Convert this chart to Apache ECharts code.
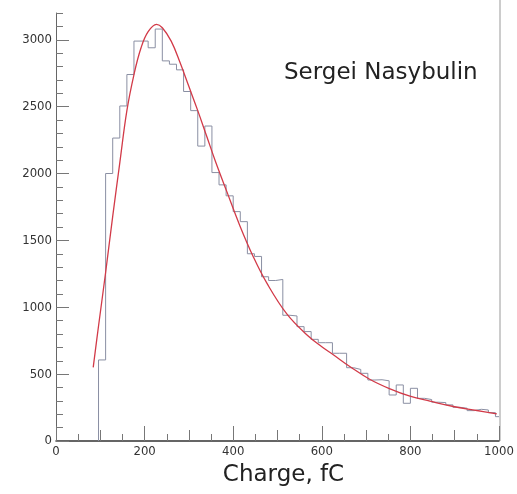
<!DOCTYPE html>
<html>
<head>
<meta charset="utf-8">
<script src="https://cdn.jsdelivr.net/npm/echarts@6/dist/echarts.min.js"></script>
<style>
  html, body { margin: 0; padding: 0; background: #fff; }
  #chart { width: 517px; height: 494px; }
</style>
</head>
<body>
<div id="chart"></div>
<script>
// histogram bins (lower edge, fC) and counts
const binEdges = [96, 112, 128, 144, 160, 176, 192, 208, 224, 240,
  256, 272, 288, 304, 320, 336, 352, 368, 384, 400,
  416, 432, 448, 464, 480, 496, 512, 528, 544, 560,
  576, 592, 608, 624, 640, 656, 672, 688, 704, 720,
  736, 752, 768, 784, 800, 816, 832, 848, 864, 880,
  896, 912, 928, 944, 960, 976, 992]
const binCounts = [606, 2000, 2265, 2505, 2740, 2990, 2990, 2940, 3080, 2842,
  2817, 2775, 2613, 2470, 2205, 2355, 2007, 1915, 1833, 1715,
  1640, 1400, 1380, 1228, 1200, 1208, 940, 935, 855, 818,
  760, 735, 735, 656, 656, 548, 535, 506, 456, 458,
  450, 344, 419, 282, 394, 319, 310, 290, 287, 270,
  252, 245, 227, 237, 232, 212, 182]

// fitted curve (red)
const fitX = [84, 96, 112, 128, 144, 160, 176, 192, 208, 227, 240, 260, 280, 300, 320, 340, 360,
  385, 415, 445, 476, 521, 566, 600, 626, 664, 709, 754, 799, 844, 897, 950, 995]
const fitY = [550, 860, 1260, 1680, 2080, 2470, 2740, 2940, 3060, 3115, 3090, 2990, 2830, 2650, 2470, 2280, 2090,
  1870, 1610, 1380, 1180, 950, 795, 705, 645, 555, 460, 390, 335, 298, 258, 228, 202]

const xTicks = [0, 200, 400, 600, 800, 1000]
const yTicks = [0, 500, 1000, 1500, 2000, 2500, 3000]

const tickFont = "'Liberation Sans Narrow', 'DejaVu Sans Condensed', sans-serif"

// step outline of the histogram
const histData = [[binEdges[0], 0]]
binEdges.forEach((e, i) => histData.push([e, binCounts[i]]))
histData.push([1000, binCounts[binCounts.length - 1]])

const fitData = fitX.map((x, i) => [x, fitY[i]])

// extra x axes that only draw the shorter ticks
const tickAxis = (interval, len) => ({
  type: 'value',
  position: 'bottom',
  min: 0,
  max: 1000,
  interval,
  axisLine: { show: false },
  axisTick: { inside: true, length: len, lineStyle: { color: '#777' } },
  axisLabel: { show: false },
  splitLine: { show: false },
})

const chart = echarts.init(document.getElementById('chart'))
chart.setOption({
  backgroundColor: '#fff',
  animation: false,
  title: {
    text: 'Sergei Nasybulin',
    left: 284,
    top: 62,
    padding: 0,
    textStyle: { fontFamily: 'DejaVu Sans', fontSize: 23, fontWeight: 'normal', color: '#222' },
  },
  grid: { left: 56, right: 18, top: 13, bottom: 53 },
  xAxis: [
    {
      type: 'value',
      position: 'bottom',
      min: 0,
      max: 1000,
      interval: 200,
      axisLine: { lineStyle: { color: '#333', width: 1.5 } },
      axisTick: { inside: true, length: 15, lineStyle: { color: '#777' } },
      axisLabel: {
        customValues: xTicks,
        fontFamily: tickFont,
        fontSize: 13,
        color: '#333',
        margin: 4,
        formatter: v => String(v),
      },
      splitLine: { show: false },
      name: 'Charge, fC',
      nameLocation: 'middle',
      nameGap: 23,
      nameTextStyle: { fontFamily: 'DejaVu Sans', fontSize: 23, color: '#222', padding: [0, 0, 0, 12] },
    },
    tickAxis(100, 11),
    tickAxis(50, 7),
  ],
  yAxis: [
    {
      type: 'value',
      position: 'left',
      min: 0,
      max: 3200,
      interval: 500,
      axisLine: { show: true, lineStyle: { color: '#666' } },
      axisTick: { inside: true, length: 13, customValues: yTicks, lineStyle: { color: '#777' } },
      axisLabel: {
        customValues: yTicks,
        fontFamily: tickFont,
        fontSize: 13,
        color: '#333',
        margin: 4,
        formatter: v => (v % 500 === 0 && v <= 3000 ? String(v) : ''),
      },
      splitLine: { show: false },
    },
    {
      type: 'value',
      position: 'left',
      min: 0,
      max: 3200,
      interval: 100,
      axisLine: { show: false },
      axisTick: { inside: true, length: 7, lineStyle: { color: '#777' } },
      axisLabel: { show: false },
      splitLine: { show: false },
    },
  ],
  graphic: [
    {
      type: 'line',
      shape: { x1: 500, y1: 0, x2: 500, y2: 441 },
      style: { stroke: '#999', lineWidth: 1 },
    },
  ],
  series: [
    {
      type: 'line',
      data: histData,
      step: 'end',
      showSymbol: false,
      lineStyle: { color: '#8a8fa3', width: 1 },
    },
    {
      type: 'line',
      data: fitData,
      smooth: 0.4,
      showSymbol: false,
      lineStyle: { color: '#d23a48', width: 1.3 },
    },
  ],
})
</script>
</body>
</html>
